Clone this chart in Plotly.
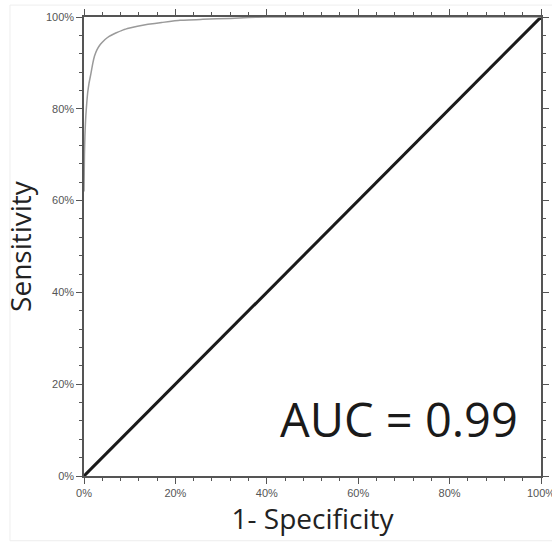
import plotly.graph_objects as go

# ROC curve (1-specificity vs sensitivity), fractions
fpr = [0.0, 0.0005, 0.001, 0.002, 0.003, 0.004, 0.006, 0.008, 0.011, 0.015, 0.019, 0.023, 0.028, 0.034, 0.040, 0.046, 0.055, 0.065, 0.074, 0.086, 0.10, 0.117, 0.14, 0.17, 0.21, 0.26, 0.32, 0.36, 0.40, 1.0]
tpr = [0.62, 0.66, 0.70, 0.74, 0.765, 0.785, 0.812, 0.835, 0.856, 0.876, 0.898, 0.915, 0.928, 0.938, 0.945, 0.951, 0.958, 0.963, 0.967, 0.972, 0.976, 0.980, 0.984, 0.988, 0.993, 0.995, 0.997, 0.999, 1.0, 1.0]
diag_x = [0.0, 1.0]
diag_y = [0.0, 1.0]
auc_text = "AUC = 0.99"
x_title = "1- Specificity"
y_title = "Sensitivity"

fig = go.Figure()
fig.add_trace(go.Scatter(x=diag_x, y=diag_y, mode="lines",
                         line=dict(color="#1a1a1a", width=3), hoverinfo="skip"))
fig.add_trace(go.Scatter(x=fpr, y=tpr, mode="lines",
                         line=dict(color="#9a9a9a", width=1.5, shape="spline", smoothing=0.3),
                         hoverinfo="skip"))

axis_common = dict(
    range=[0, 1], dtick=0.2, tickformat=".0%", showgrid=False, zeroline=False,
    showline=True, linecolor="#555555", linewidth=1.5, mirror="allticks",
    ticks="outside", ticklen=6, tickwidth=1.2, tickcolor="#555555", automargin=False,
    ticklabeloverflow="allow",
    tickfont=dict(family="Liberation Sans, Arial, sans-serif", size=11, color="#555555"),
    minor=dict(dtick=0.04, ticks="outside", ticklen=3.5, tickwidth=1, tickcolor="#555555"),
)

fig.update_xaxes(**axis_common,
                 title=dict(text=x_title, font=dict(family="Open Sans, sans-serif", size=28, color="#222222"),
                            standoff=8))
fig.update_yaxes(**axis_common,
                 title=dict(text=y_title, font=dict(family="Open Sans, sans-serif", size=28, color="#222222"),
                            standoff=6))

fig.add_annotation(x=0.955, y=0.05, xref="x", yref="y", text=auc_text, showarrow=False,
                   xanchor="right", yanchor="bottom",
                   font=dict(family="Open Sans, sans-serif", size=47, color="#1a1a1a"))

# faint outer frame of the original picture
fig.add_shape(type="rect", xref="paper", yref="paper",
              x0=-0.162, x1=1.04, y0=-0.141, y1=1.026,
              line=dict(color="#eeeeee", width=1), layer="below")

fig.update_layout(
    width=552, height=542, margin=dict(l=84, r=11, t=17, b=66),
    paper_bgcolor="white", plot_bgcolor="white", showlegend=False,
)

fig.write_html("out.html")
